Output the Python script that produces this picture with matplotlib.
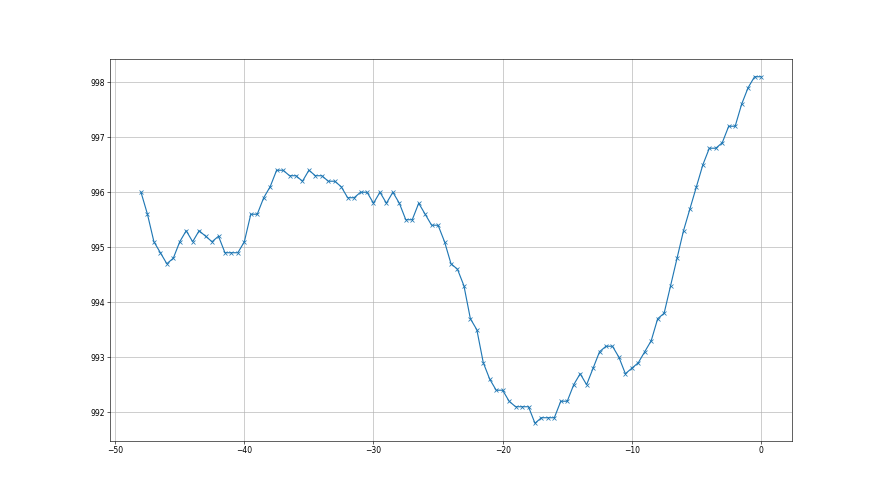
import numpy as np
import matplotlib
matplotlib.use("Agg")
import matplotlib.pyplot as plt

# hours before now, every half hour
hours = np.arange(-48, 0.5, 0.5)

# pressure readings (hPa)
pressure = [
    996.0, 995.6, 995.1, 994.9, 994.7, 994.8, 995.1, 995.3, 995.1, 995.3,
    995.2, 995.1, 995.2, 994.9, 994.9, 994.9, 995.1, 995.6, 995.6, 995.9,
    996.1, 996.4, 996.4, 996.3, 996.3, 996.2, 996.4, 996.3, 996.3, 996.2,
    996.2, 996.1, 995.9, 995.9, 996.0, 996.0, 995.8, 996.0, 995.8, 996.0,
    995.8, 995.5, 995.5, 995.8, 995.6, 995.4, 995.4, 995.1, 994.7, 994.6,
    994.3, 993.7, 993.5, 992.9, 992.6, 992.4, 992.4, 992.2, 992.1, 992.1,
    992.1, 991.8, 991.9, 991.9, 991.9, 992.2, 992.2, 992.5, 992.7, 992.5,
    992.8, 993.1, 993.2, 993.2, 993.0, 992.7, 992.8, 992.9, 993.1, 993.3,
    993.7, 993.8, 994.3, 994.8, 995.3, 995.7, 996.1, 996.5, 996.8, 996.8,
    996.9, 997.2, 997.2, 997.6, 997.9, 998.1, 998.1,
]
assert len(pressure) == len(hours)

fig, ax = plt.subplots(figsize=(16, 9), dpi=55)
ax.plot(hours, pressure, marker='x')
ax.grid(True)
fig.savefig('out.png', dpi=55)
